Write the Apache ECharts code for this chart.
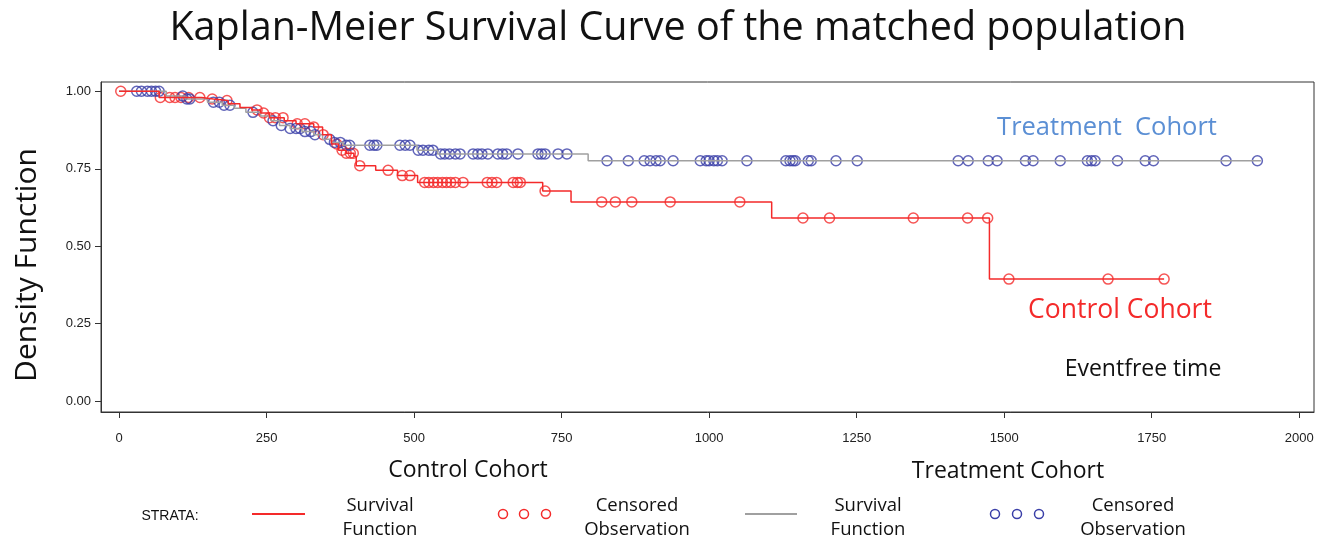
<!DOCTYPE html>
<html>
<head>
<meta charset="utf-8">
<script src="https://cdn.jsdelivr.net/npm/echarts@6/dist/echarts.min.js"></script>
<style>
  html, body { margin: 0; padding: 0; background: #fff; }
  #main { width: 1327px; height: 542px; }
</style>
</head>
<body>
<div id="main"></div>
<script>
// step points of the survival curves: time (days) and survival after the event
var controlTimes = [0, 68, 140, 160, 185, 205, 225, 240, 255, 280, 300, 330, 345, 360, 372, 385, 398, 402, 435, 472, 506, 718, 766, 1106, 1475];
var controlSurv  = [1.0, 0.98, 0.975, 0.97, 0.96, 0.948, 0.94, 0.93, 0.915, 0.905, 0.895, 0.885, 0.86, 0.83, 0.81, 0.80, 0.79, 0.76, 0.745, 0.728, 0.706, 0.678, 0.643, 0.591, 0.394];
var controlEnd = 1771;

var treatTimes = [0, 80, 112, 150, 175, 195, 215, 240, 258, 272, 290, 310, 330, 345, 360, 380, 505, 540, 795];
var treatSurv  = [1.0, 0.985, 0.975, 0.965, 0.955, 0.945, 0.932, 0.92, 0.905, 0.89, 0.88, 0.87, 0.86, 0.845, 0.835, 0.826, 0.81, 0.798, 0.776];
var treatEnd = 1935;

// censored observations (time in days)
var controlCensor = [3, 70, 86, 95, 105, 118, 137, 158, 183, 234, 245, 255, 265, 278, 302, 315, 330, 346, 369, 378, 385, 392, 397,
  408, 456, 480, 493, 518, 525, 533, 540, 548, 555, 562, 570, 583, 624, 632, 640, 668, 675, 680, 722, 818, 841, 869, 934, 1052,
  1159, 1204, 1346, 1438, 1472, 1508, 1676, 1771];
var treatCensor = [30, 38, 48, 55, 62, 68, 108, 115, 120, 160, 170, 178, 188, 227, 261, 275, 290, 300, 307, 315, 325, 332, 357, 365,
  375, 385, 391, 425, 432, 437, 476, 485, 493, 507, 515, 525, 532, 545, 552, 560, 570, 578, 600, 608, 615, 625, 642, 650, 657,
  676, 710, 716, 722, 744, 759, 827, 863, 890, 900, 910, 917, 939, 985, 995, 1000, 1008, 1014, 1022, 1064, 1130, 1137, 1142, 1146,
  1168, 1173, 1215, 1251, 1422, 1439, 1473, 1488, 1536, 1549, 1595, 1641, 1648, 1654, 1692, 1739, 1753, 1876, 1929];

var xTicks = [0, 250, 500, 750, 1000, 1250, 1500, 1750, 2000];
var yTicks = [0, 0.25, 0.5, 0.75, 1];

var RED = '#f42a2a';
var BLUE = '#3a3fa8';
var GRAY = '#a0a0a0';

function stepData(times, surv, end) {
    var d = [];
    for (var i = 0; i < times.length; i++) d.push([times[i], surv[i]]);
    d.push([end, surv[surv.length - 1]]);
    return d;
}
function survAt(times, surv, t) {
    var s = surv[0];
    for (var i = 0; i < times.length; i++) { if (times[i] <= t) s = surv[i]; }
    return s;
}
function censorData(list, times, surv) {
    return list.map(function (t) { return [t, survAt(times, surv, t)]; });
}

var myChart = echarts.init(document.getElementById('main'));
var fontTxt = '"Open Sans", "Noto Sans", sans-serif';
var fontAxis = '"Liberation Sans", Arial, sans-serif';

function txt(x, y, s, size, color, align) {
    return { type: 'text', x: x, y: y, silent: true,
        style: { text: s, font: size + 'px ' + fontTxt, fill: color || '#111',
                 textAlign: align || 'center', textVerticalAlign: 'middle', lineHeight: size * 1.3 } };
}
function ring(cx, color) {
    return { type: 'circle', silent: true, shape: { cx: cx, cy: 514, r: 4.5 },
             style: { fill: 'none', stroke: color, lineWidth: 1.5 } };
}

var option = {
    backgroundColor: '#fff',
    animation: false,
    grid: { left: 101, top: 82, right: 13, bottom: 130, show: true, borderColor: '#333', borderWidth: 1 },
    xAxis: {
        type: 'value', min: -30.5, max: 2025,
        splitLine: { show: false },
        axisLine: { show: true, onZero: false, lineStyle: { color: '#333' } },
        axisTick: { show: true, length: 6, customValues: xTicks, lineStyle: { color: '#333' } },
        axisLabel: { customValues: xTicks, margin: 20, color: '#222', fontSize: 13, fontFamily: fontAxis,
            formatter: function (v) { return String(v); } }
    },
    yAxis: {
        type: 'value', min: -0.035, max: 1.03,
        splitLine: { show: false },
        axisLine: { show: true, onZero: false, lineStyle: { color: '#333' } },
        axisTick: { show: true, length: 6, customValues: yTicks, lineStyle: { color: '#333' } },
        axisLabel: { customValues: yTicks, margin: 10, color: '#222', fontSize: 13, fontFamily: fontAxis,
            formatter: function (v) { return v.toFixed(2); } }
    },
    series: [
        { name: 'Treatment', type: 'line', step: 'end', showSymbol: false,
          data: stepData(treatTimes, treatSurv, treatEnd),
          lineStyle: { color: GRAY, width: 1.5 } },
        { name: 'Control', type: 'line', step: 'end', showSymbol: false,
          data: stepData(controlTimes, controlSurv, controlEnd),
          lineStyle: { color: RED, width: 1.5 } },
        { name: 'Control censored', type: 'scatter', symbol: 'circle', symbolSize: 10,
          data: censorData(controlCensor, controlTimes, controlSurv),
          itemStyle: { color: 'transparent', borderColor: RED, borderWidth: 1.5 } },
        { name: 'Treatment censored', type: 'scatter', symbol: 'circle', symbolSize: 10,
          data: censorData(treatCensor, treatTimes, treatSurv),
          itemStyle: { color: 'transparent', borderColor: BLUE, borderWidth: 1.5 } }
    ],
    graphic: [
        txt(678, 29, 'Kaplan-Meier Survival Curve of the matched population', 39.5, '#111'),
        { type: 'text', x: 27, y: 265, rotation: Math.PI / 2, silent: true,
          style: { text: 'Density Function', font: '30px ' + fontTxt, fill: '#111',
                   textAlign: 'center', textVerticalAlign: 'middle' } },
        txt(1107, 128, 'Treatment  Cohort', 25.5, '#5b8fd4'),
        txt(1120, 310, 'Control Cohort', 26.5, '#f42a2a'),
        txt(1143, 369, 'Eventfree time', 23, '#111'),
        txt(468, 470, 'Control Cohort', 23, '#111'),
        txt(1008, 471, 'Treatment Cohort', 23, '#111'),
        { type: 'text', x: 170, y: 516, silent: true,
          style: { text: 'STRATA:', font: '14px ' + fontAxis, fill: '#111', textAlign: 'center', textVerticalAlign: 'middle' } },
        { type: 'line', silent: true, shape: { x1: 252, y1: 514, x2: 305, y2: 514 }, style: { stroke: RED, lineWidth: 2 } },
        txt(380, 518, 'Survival\nFunction', 18.5, '#111'),
        ring(503, RED), ring(524, RED), ring(546, RED),
        txt(637, 518, 'Censored\nObservation', 18.5, '#111'),
        { type: 'line', silent: true, shape: { x1: 745, y1: 514, x2: 797, y2: 514 }, style: { stroke: GRAY, lineWidth: 2 } },
        txt(868, 518, 'Survival\nFunction', 18.5, '#111'),
        ring(995, BLUE), ring(1017, BLUE), ring(1039, BLUE),
        txt(1133, 518, 'Censored\nObservation', 18.5, '#111')
    ]
};

myChart.setOption(option);
</script>
</body>
</html>
